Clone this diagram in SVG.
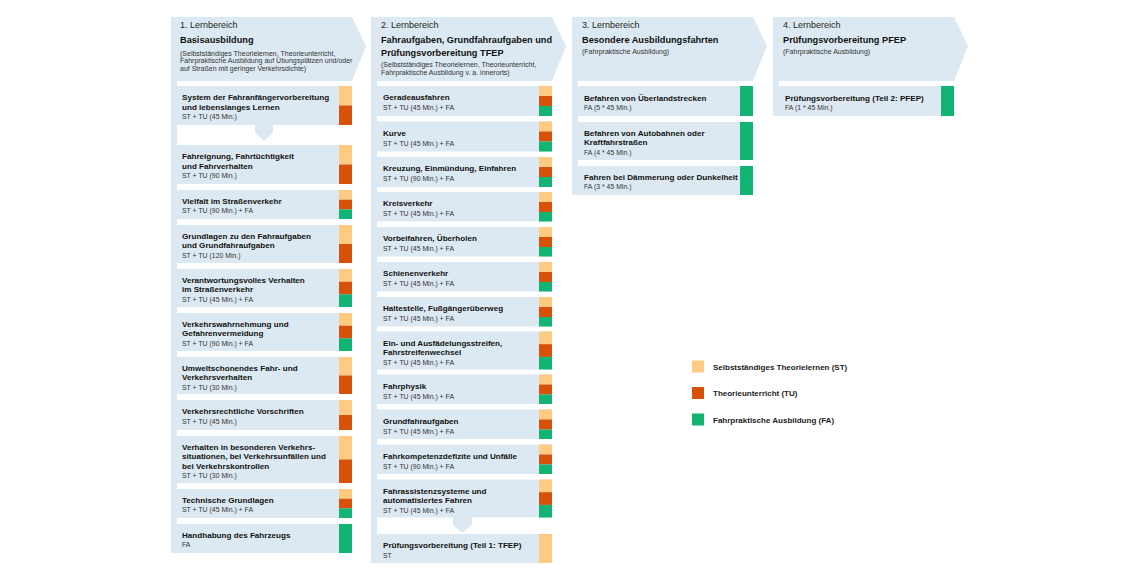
<svg xmlns="http://www.w3.org/2000/svg" width="1140" height="580" viewBox="0 0 1140 580">
<style>
.bg{fill:#DDE9F2}
.st{fill:#FFCA82}
.tu{fill:#D75109}
.fa{fill:#12B474}
text{font-family:"Liberation Sans",Arial,sans-serif}
.lb{font-size:9px;fill:#1e1e1e}
.ht{font-size:9.2px;font-weight:bold;fill:#111}
.hs{font-size:7px;fill:#333}
.ct{font-size:8.1px;font-weight:bold;fill:#111}
.cs{font-size:6.9px;fill:#333}
.lg{font-size:8px;font-weight:bold;fill:#222}
</style>
<rect width="1140" height="580" fill="#fff"/>

<!-- Column 1 -->
<g id="col1">
<g id="col1-header">
<polygon class="bg" points="171,17 352,17 366,46 352,81 171,81"/>
<text class="lb" x="180" y="28">1. Lernbereich</text>
<text class="ht" x="180" y="43">Basisausbildung</text>
<text class="hs" x="180" y="55.5">(Selbstständiges Theorielernen, Theorieunterricht,</text>
<text class="hs" x="180" y="63">Fahrpraktische Ausbildung auf Übungsplätzen und/oder</text>
<text class="hs" x="180" y="70.5">auf Straßen mit geringer Verkehrsdichte)</text>
</g>
<rect class="bg" x="171" y="81" width="6" height="472"/>
<g id="c1n1"><rect class="bg" x="177" y="86" width="175" height="39"/><rect class="st" x="339" y="86" width="13" height="19.5"/><rect class="tu" x="339" y="105.5" width="13" height="19.5"/>
<text class="ct" x="182" y="100">System der Fahranfängervorbereitung</text><text class="ct" x="182" y="109.5">und lebenslanges Lernen</text><text class="cs" x="182" y="119">ST + TU (45 Min.)</text></g>
<g id="c1n2"><rect class="bg" x="177" y="145" width="175" height="39"/><rect class="st" x="339" y="145" width="13" height="19.5"/><rect class="tu" x="339" y="164.5" width="13" height="19.5"/>
<text class="ct" x="182" y="159">Fahreignung, Fahrtüchtigkeit</text><text class="ct" x="182" y="168.5">und Fahrverhalten</text><text class="cs" x="182" y="178">ST + TU (90 Min.)</text></g>
<g id="c1n3"><rect class="bg" x="177" y="190" width="175" height="29"/><rect class="st" x="339" y="190" width="13" height="9.7"/><rect class="tu" x="339" y="199.7" width="13" height="9.7"/><rect class="fa" x="339" y="209.4" width="13" height="9.6"/>
<text class="ct" x="182" y="203.5">Vielfalt im Straßenverkehr</text><text class="cs" x="182" y="213">ST + TU (90 Min.) + FA</text></g>
<g id="c1n4"><rect class="bg" x="177" y="225" width="175" height="38"/><rect class="st" x="339" y="225" width="13" height="19"/><rect class="tu" x="339" y="244" width="13" height="19"/>
<text class="ct" x="182" y="238.5">Grundlagen zu den Fahraufgaben</text><text class="ct" x="182" y="248">und Grundfahraufgaben</text><text class="cs" x="182" y="257.5">ST + TU (120 Min.)</text></g>
<g id="c1n5"><rect class="bg" x="177" y="269" width="175" height="38"/><rect class="st" x="339" y="269" width="13" height="12.7"/><rect class="tu" x="339" y="281.7" width="13" height="12.7"/><rect class="fa" x="339" y="294.4" width="13" height="12.6"/>
<text class="ct" x="182" y="282.5">Verantwortungsvolles Verhalten</text><text class="ct" x="182" y="292">im Straßenverkehr</text><text class="cs" x="182" y="301.5">ST + TU (45 Min.) + FA</text></g>
<g id="c1n6"><rect class="bg" x="177" y="313" width="175" height="38"/><rect class="st" x="339" y="313" width="13" height="12.7"/><rect class="tu" x="339" y="325.7" width="13" height="12.7"/><rect class="fa" x="339" y="338.4" width="13" height="12.6"/>
<text class="ct" x="182" y="326.5">Verkehrswahrnehmung und</text><text class="ct" x="182" y="336">Gefahrenvermeidung</text><text class="cs" x="182" y="345.5">ST + TU (90 Min.) + FA</text></g>
<g id="c1n7"><rect class="bg" x="177" y="357" width="175" height="37"/><rect class="st" x="339" y="357" width="13" height="18.5"/><rect class="tu" x="339" y="375.5" width="13" height="18.5"/>
<text class="ct" x="182" y="370.5">Umweltschonendes Fahr- und</text><text class="ct" x="182" y="380">Verkehrsverhalten</text><text class="cs" x="182" y="389.5">ST + TU (30 Min.)</text></g>
<g id="c1n8"><rect class="bg" x="177" y="400" width="175" height="30"/><rect class="st" x="339" y="400" width="13" height="15"/><rect class="tu" x="339" y="415" width="13" height="15"/>
<text class="ct" x="182" y="414">Verkehrsrechtliche Vorschriften</text><text class="cs" x="182" y="423.5">ST + TU (45 Min.)</text></g>
<g id="c1n9"><rect class="bg" x="177" y="436" width="175" height="47"/><rect class="st" x="339" y="436" width="13" height="23.5"/><rect class="tu" x="339" y="459.5" width="13" height="23.5"/>
<text class="ct" x="182" y="449.5">Verhalten in besonderen Verkehrs-</text><text class="ct" x="182" y="459">situationen, bei Verkehrsunfällen und</text><text class="ct" x="182" y="468.5">bei Verkehrskontrollen</text><text class="cs" x="182" y="478">ST + TU (30 Min.)</text></g>
<g id="c1n10"><rect class="bg" x="177" y="489" width="175" height="29"/><rect class="st" x="339" y="489" width="13" height="9.7"/><rect class="tu" x="339" y="498.7" width="13" height="9.7"/><rect class="fa" x="339" y="508.4" width="13" height="9.6"/>
<text class="ct" x="182" y="502.5">Technische Grundlagen</text><text class="cs" x="182" y="512">ST + TU (45 Min.) + FA</text></g>
<g id="c1n11"><rect class="bg" x="177" y="524" width="175" height="29"/><rect class="fa" x="339" y="524" width="13" height="29"/>
<text class="ct" x="182" y="537.5">Handhabung des Fahrzeugs</text><text class="cs" x="182" y="547">FA</text></g>
</g>

<!-- Column 2 -->
<g id="col2">
<g id="col2-header">
<polygon class="bg" points="371,17 552,17 566,46 552,81 371,81"/>
<text class="lb" x="381" y="28">2. Lernbereich</text>
<text class="ht" x="381" y="43">Fahraufgaben, Grundfahraufgaben und</text>
<text class="ht" x="381" y="56">Prüfungsvorbereitung TFEP</text>
<text class="hs" x="381" y="67">(Selbstständiges Theorielernen, Theorieunterricht,</text>
<text class="hs" x="381" y="74.5">Fahrpraktische Ausbildung v. a. innerorts)</text>
</g>
<rect class="bg" x="371" y="81" width="6" height="482"/>
<g id="c2n1"><rect class="bg" x="377" y="86" width="175" height="30"/><rect class="st" x="539" y="86" width="13" height="10"/><rect class="tu" x="539" y="96" width="13" height="10"/><rect class="fa" x="539" y="106" width="13" height="10"/>
<text class="ct" x="383" y="100">Geradeausfahren</text><text class="cs" x="383" y="110">ST + TU (45 Min.) + FA</text></g>
<g id="c2n2"><rect class="bg" x="377" y="121.5" width="175" height="30"/><rect class="st" x="539" y="121.5" width="13" height="10"/><rect class="tu" x="539" y="131.5" width="13" height="10"/><rect class="fa" x="539" y="141.5" width="13" height="10"/>
<text class="ct" x="383" y="135.5">Kurve</text><text class="cs" x="383" y="145.5">ST + TU (45 Min.) + FA</text></g>
<g id="c2n3"><rect class="bg" x="377" y="157" width="175" height="30"/><rect class="st" x="539" y="157" width="13" height="10"/><rect class="tu" x="539" y="167" width="13" height="10"/><rect class="fa" x="539" y="177" width="13" height="10"/>
<text class="ct" x="383" y="171">Kreuzung, Einmündung, Einfahren</text><text class="cs" x="383" y="181">ST + TU (90 Min.) + FA</text></g>
<g id="c2n4"><rect class="bg" x="377" y="192" width="175" height="29.5"/><rect class="st" x="539" y="192" width="13" height="10"/><rect class="tu" x="539" y="202" width="13" height="10"/><rect class="fa" x="539" y="212" width="13" height="9.5"/>
<text class="ct" x="383" y="206">Kreisverkehr</text><text class="cs" x="383" y="216">ST + TU (45 Min.) + FA</text></g>
<g id="c2n5"><rect class="bg" x="377" y="227" width="175" height="29.5"/><rect class="st" x="539" y="227" width="13" height="10"/><rect class="tu" x="539" y="237" width="13" height="10"/><rect class="fa" x="539" y="247" width="13" height="9.5"/>
<text class="ct" x="383" y="241">Vorbeifahren, Überholen</text><text class="cs" x="383" y="251">ST + TU (45 Min.) + FA</text></g>
<g id="c2n6"><rect class="bg" x="377" y="262" width="175" height="29.5"/><rect class="st" x="539" y="262" width="13" height="10"/><rect class="tu" x="539" y="272" width="13" height="10"/><rect class="fa" x="539" y="282" width="13" height="9.5"/>
<text class="ct" x="383" y="276">Schienenverkehr</text><text class="cs" x="383" y="286">ST + TU (45 Min.) + FA</text></g>
<g id="c2n7"><rect class="bg" x="377" y="297" width="175" height="29.5"/><rect class="st" x="539" y="297" width="13" height="10"/><rect class="tu" x="539" y="307" width="13" height="10"/><rect class="fa" x="539" y="317" width="13" height="9.5"/>
<text class="ct" x="383" y="311">Haltestelle, Fußgängerüberweg</text><text class="cs" x="383" y="321">ST + TU (45 Min.) + FA</text></g>
<g id="c2n8"><rect class="bg" x="377" y="331.5" width="175" height="38"/><rect class="st" x="539" y="331.5" width="13" height="12.7"/><rect class="tu" x="539" y="344.2" width="13" height="12.7"/><rect class="fa" x="539" y="356.9" width="13" height="12.6"/>
<text class="ct" x="383" y="345.5">Ein- und Ausfädelungsstreifen,</text><text class="ct" x="383" y="355">Fahrstreifenwechsel</text><text class="cs" x="383" y="364.5">ST + TU (45 Min.) + FA</text></g>
<g id="c2n9"><rect class="bg" x="377" y="374.5" width="175" height="29.5"/><rect class="st" x="539" y="374.5" width="13" height="10"/><rect class="tu" x="539" y="384.5" width="13" height="10"/><rect class="fa" x="539" y="394.5" width="13" height="9.5"/>
<text class="ct" x="383" y="388.5">Fahrphysik</text><text class="cs" x="383" y="398.5">ST + TU (45 Min.) + FA</text></g>
<g id="c2n10"><rect class="bg" x="377" y="409.5" width="175" height="29.5"/><rect class="st" x="539" y="409.5" width="13" height="10"/><rect class="tu" x="539" y="419.5" width="13" height="10"/><rect class="fa" x="539" y="429.5" width="13" height="9.5"/>
<text class="ct" x="383" y="423.5">Grundfahraufgaben</text><text class="cs" x="383" y="433.5">ST + TU (45 Min.) + FA</text></g>
<g id="c2n11"><rect class="bg" x="377" y="444.5" width="175" height="29.5"/><rect class="st" x="539" y="444.5" width="13" height="10"/><rect class="tu" x="539" y="454.5" width="13" height="10"/><rect class="fa" x="539" y="464.5" width="13" height="9.5"/>
<text class="ct" x="383" y="458.5">Fahrkompetenzdefizite und Unfälle</text><text class="cs" x="383" y="468.5">ST + TU (90 Min.) + FA</text></g>
<g id="c2n12"><rect class="bg" x="377" y="479.5" width="175" height="38"/><rect class="st" x="539" y="479.5" width="13" height="12.7"/><rect class="tu" x="539" y="492.2" width="13" height="12.7"/><rect class="fa" x="539" y="504.9" width="13" height="12.6"/>
<text class="ct" x="383" y="493.5">Fahrassistenzsysteme und</text><text class="ct" x="383" y="503">automatisiertes Fahren</text><text class="cs" x="383" y="512.5">ST + TU (45 Min.) + FA</text></g>
<g id="c2n13"><rect class="bg" x="377" y="534" width="175" height="29"/><rect class="st" x="539" y="534" width="13" height="29"/>
<text class="ct" x="383" y="548">Prüfungsvorbereitung (Teil 1: TFEP)</text><text class="cs" x="383" y="557.5">ST</text></g>
</g>

<!-- Column 3 -->
<g id="col3">
<g id="col3-header">
<polygon class="bg" points="572,17 753,17 767,46 753,81 572,81"/>
<text class="lb" x="582" y="28">3. Lernbereich</text>
<text class="ht" x="582" y="43">Besondere Ausbildungsfahrten</text>
<text class="hs" x="582" y="54">(Fahrpraktische Ausbildung)</text>
</g>
<rect class="bg" x="572" y="81" width="6" height="114"/>
<g id="c3n1"><rect class="bg" x="578" y="86" width="175" height="30"/><rect class="fa" x="740" y="86" width="13" height="30"/>
<text class="ct" x="584" y="100.5">Befahren von Überlandstrecken</text><text class="cs" x="584" y="110">FA (5 * 45 Min.)</text></g>
<g id="c3n2"><rect class="bg" x="578" y="122" width="175" height="38"/><rect class="fa" x="740" y="122" width="13" height="38"/>
<text class="ct" x="584" y="135.5">Befahren von Autobahnen oder</text><text class="ct" x="584" y="145">Kraftfahrstraßen</text><text class="cs" x="584" y="154.5">FA (4 * 45 Min.)</text></g>
<g id="c3n3"><rect class="bg" x="578" y="166" width="175" height="29"/><rect class="fa" x="740" y="166" width="13" height="29"/>
<text class="ct" x="584" y="179.5">Fahren bei Dämmerung oder Dunkelheit</text><text class="cs" x="584" y="189">FA (3 * 45 Min.)</text></g>
</g>

<!-- Column 4 -->
<g id="col4">
<g id="col4-header">
<polygon class="bg" points="773,17 954,17 968,46 954,81 773,81"/>
<text class="lb" x="783" y="28">4. Lernbereich</text>
<text class="ht" x="783" y="43">Prüfungsvorbereitung PFEP</text>
<text class="hs" x="783" y="54">(Fahrpraktische Ausbildung)</text>
</g>
<rect class="bg" x="773" y="81" width="6" height="35"/>
<g id="c4n1"><rect class="bg" x="779" y="86" width="175" height="30"/><rect class="fa" x="941" y="86" width="13" height="30"/>
<text class="ct" x="785" y="100.5">Prüfungsvorbereitung (Teil 2: PFEP)</text><text class="cs" x="785" y="110">FA (1 * 45 Min.)</text></g>
</g>

<!-- Connectors -->
<g id="connectors">
<polygon class="bg" points="255,125 273,125 273,133 264,141 255,133"/>
<polygon class="bg" points="453,517 472,517 472,525 462.5,533 453,525"/>
</g>

<!-- Legend -->
<g id="legend">
<rect class="st" x="692" y="360.5" width="12" height="12"/>
<text class="lg" x="713" y="369.5">Selbstständiges Theorielernen (ST)</text>
<rect class="tu" x="692" y="387" width="12" height="12"/>
<text class="lg" x="713" y="396">Theorieunterricht (TU)</text>
<rect class="fa" x="692" y="413.5" width="12" height="12"/>
<text class="lg" x="713" y="422.5">Fahrpraktische Ausbildung (FA)</text>
</g>
</svg>
